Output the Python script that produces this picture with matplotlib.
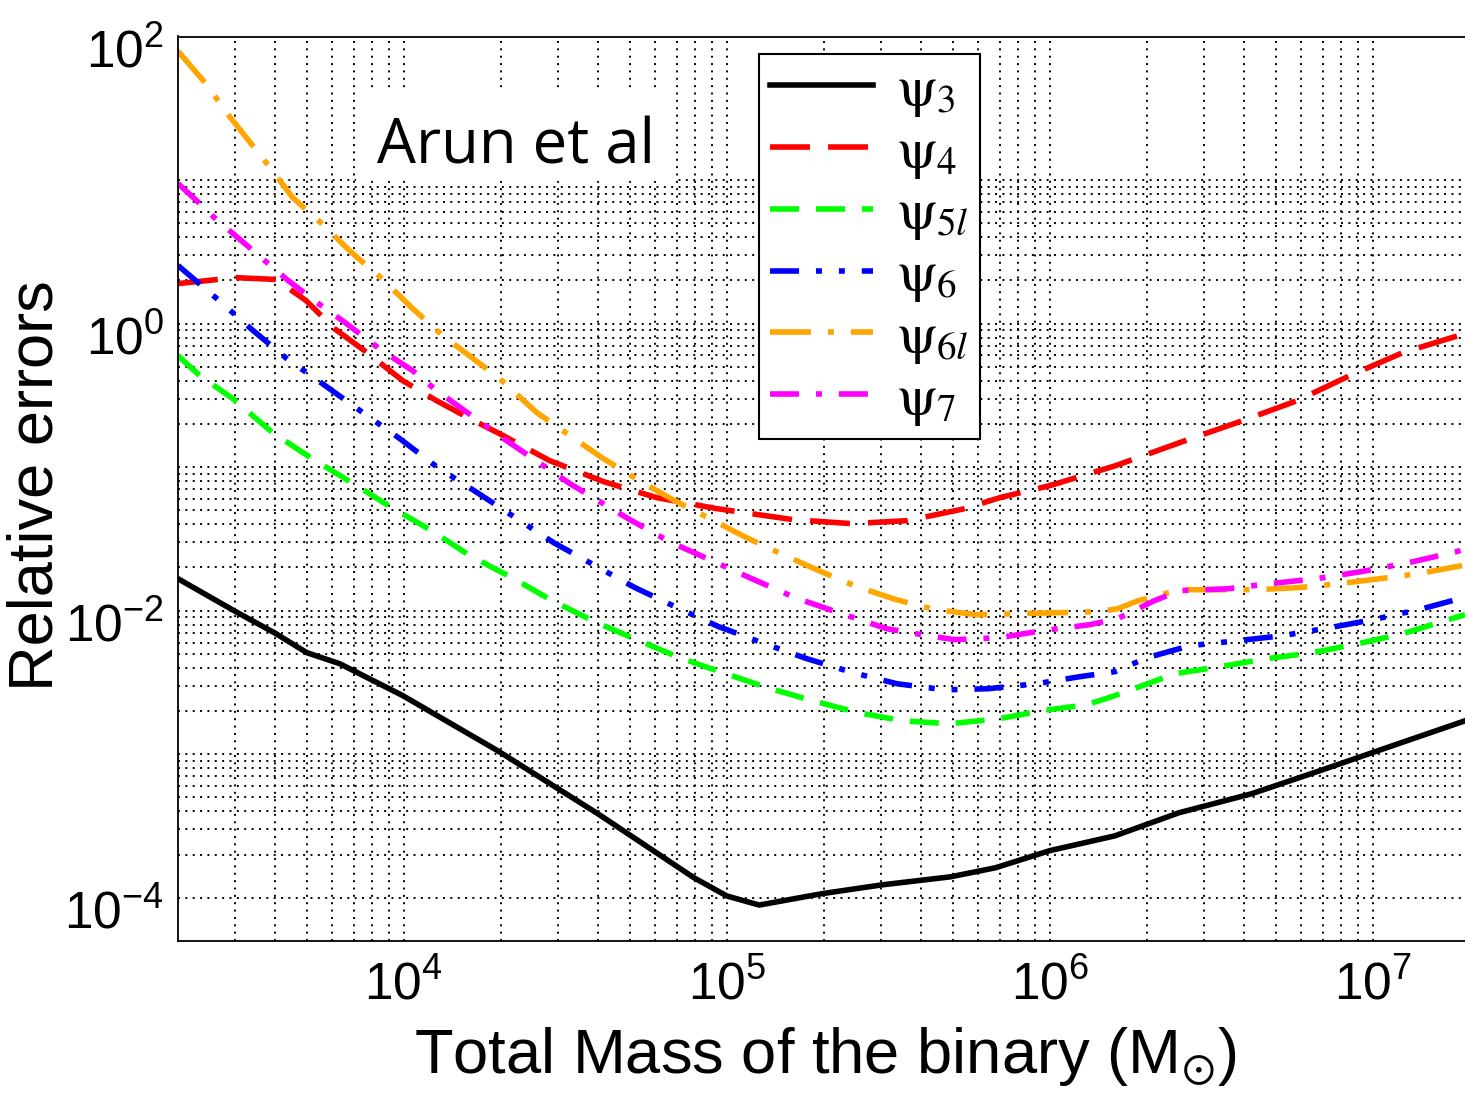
import numpy as np
import matplotlib
matplotlib.use("Agg")
from matplotlib import pyplot as plt
from matplotlib.patches import Rectangle
from matplotlib.ticker import NullFormatter
from matplotlib.transforms import ScaledTranslation

plt.rcParams["font.family"] = "Liberation Sans"
plt.rcParams["mathtext.fontset"] = "stix"
plt.rcParams["axes.unicode_minus"] = False
plt.rcParams["lines.scale_dashes"] = False

# values (total mass in solar masses, relative error)
m_psi3 = [2000, 3020, 4020, 5010, 6340, 9930, 19500, 39900, 79100, 1.0e5, 1.26e5,
          1.98e5, 3.02e5, 4.93e5, 6.8e5, 1.0e6, 1.59e6, 2.51e6, 4.22e6, 6.85e6,
          1.04e7, 1.93e7]
e_psi3 = [0.0167, 0.00984, 0.00692, 0.00510, 0.00427, 0.00256, 0.00106, 3.85e-4,
          1.38e-4, 1.03e-4, 8.9e-5, 1.07e-4, 1.23e-4, 1.40e-4, 1.62e-4, 2.13e-4,
          2.70e-4, 3.91e-4, 5.31e-4, 7.67e-4, 1.06e-3, 1.71e-3]

m_psi4 = [2000, 3020, 4020, 4975, 6110, 7680, 9930, 12650, 16000, 19800, 28300,
          41600, 60700, 93100, 1.6e5, 2.44e5, 3.63e5, 5.46e5, 7.0e5, 1.0e6, 1.59e6,
          2.67e6, 3.96e6, 5.82e6, 8.49e6, 1.24e7, 1.93e7]
e_psi4 = [1.90, 2.09, 2.03, 1.45, 0.92, 0.63, 0.40, 0.290, 0.218, 0.171, 0.111,
          0.0792, 0.0613, 0.0514, 0.0431, 0.0404, 0.0424, 0.0514, 0.0613, 0.0743,
          0.102, 0.155, 0.211, 0.290, 0.434, 0.628, 0.852]

m_psi5l = [2000, 2335, 2955, 3925, 5190, 6900, 9180, 12200, 16000, 21600, 28900,
           39000, 52600, 71500, 97200, 1.34e5, 1.845e5, 2.545e5, 3.51e5, 4.9e5,
           7.0e5, 9.44e5, 1.30e6, 1.59e6, 2.01e6, 2.44e6, 3.36e6, 4.70e6, 6.52e6,
           9.0e6, 1.24e7, 1.71e7, 1.93e7]
e_psi5l = [0.598, 0.434, 0.300, 0.174, 0.115, 0.078, 0.0522, 0.0361, 0.0242, 0.0170,
           0.0117, 0.00838, 0.00628, 0.00470, 0.00370, 0.00290, 0.00236, 0.00195,
           0.00171, 0.00163, 0.00177, 0.00201, 0.00221, 0.00256, 0.00310, 0.00364,
           0.00407, 0.00463, 0.00510, 0.00589, 0.00692, 0.00865, 0.00938]

m_psi6 = [2000, 2640, 3360, 4345, 5650, 7465, 9720, 12740, 16700, 22400, 29100,
          39600, 51900, 71500, 94400, 1.31e5, 1.77e5, 2.46e5, 3.36e5, 4.73e5,
          6.43e5, 9.12e5, 1.24e6, 1.59e6, 2.0e6, 2.71e6, 3.82e6, 5.26e6, 7.36e6,
          1.0e7, 1.42e7, 1.90e7]
e_psi6 = [2.54, 1.49, 0.923, 0.570, 0.376, 0.240, 0.158, 0.0993, 0.0675, 0.0438,
          0.0298, 0.0203, 0.0145, 0.0103, 0.00774, 0.00589, 0.00463, 0.00370,
          0.00310, 0.00281, 0.00286, 0.00310, 0.00347, 0.00376, 0.00470, 0.00570,
          0.00618, 0.00670, 0.00762, 0.00865, 0.0103, 0.0123]

m_psi6l = [2000, 2430, 2890, 3770, 4530, 5570, 6900, 8550, 10660, 13200, 17200,
           19800, 25800, 32700, 41400, 53000, 68000, 88600, 1.15e5, 1.49e5, 1.96e5,
           2.53e5, 3.36e5, 4.40e5, 5.93e5, 7.92e5, 1.06e6, 1.40e6, 1.62e6, 1.87e6,
           2.53e6, 3.31e6, 4.37e6, 5.94e6, 7.81e6, 1.05e7, 1.38e7, 1.89e7]
e_psi6l = [79.0, 47.4, 27.7, 13.0, 7.55, 4.98, 3.12, 2.06, 1.27, 0.825, 0.526,
           0.414, 0.240, 0.166, 0.115, 0.0818, 0.0594, 0.0438, 0.0323, 0.0246,
           0.0187, 0.0147, 0.0119, 0.0102, 0.00938, 0.00953, 0.00968, 0.00984,
           0.0103, 0.0117, 0.0140, 0.0140, 0.0140, 0.0145, 0.0154, 0.0167, 0.0181,
           0.0206]

m_psi7 = [2000, 2335, 2590, 3410, 4380, 5490, 6570, 8550, 10660, 12650, 20800,
          32700, 50100, 67400, 87300, 1.175e5, 1.63e5, 2.27e5, 3.13e5, 4.18e5,
          5.09e5, 7.0e5, 9.49e5, 1.33e6, 1.62e6, 2.10e6, 2.53e6, 3.54e6, 4.78e6,
          6.67e6, 9.2e6, 1.29e7, 1.82e7, 1.93e7]
e_psi7 = [9.46, 6.86, 5.48, 3.23, 2.00, 1.36, 1.02, 0.649, 0.470, 0.341, 0.153,
          0.0767, 0.0431, 0.0298, 0.0230, 0.0170, 0.0123, 0.00953, 0.00749,
          0.00670, 0.00628, 0.00649, 0.00726, 0.00799, 0.00879, 0.0117, 0.0138,
          0.0142, 0.0154, 0.0167, 0.0187, 0.0216, 0.0258, 0.0270]

labels = [r"$\mathrm{\psi}_{3}$", r"$\mathrm{\psi}_{4}$", r"$\mathrm{\psi}_{5l}$",
          r"$\mathrm{\psi}_{6}$", r"$\mathrm{\psi}_{6l}$", r"$\mathrm{\psi}_{7}$"]

x_major = [1e4, 1e5, 1e6, 1e7]
y_major = [1e-4, 1e-2, 1e0, 1e2]
x_ticklabels = [r"$\mathdefault{10^{4}}$", r"$\mathdefault{10^{5}}$",
                r"$\mathdefault{10^{6}}$", r"$\mathdefault{10^{7}}$"]
y_ticklabels = [r"$\mathdefault{10^{-4}}$", r"$\mathdefault{10^{-2}}$",
                r"$\mathdefault{10^{0}}$", r"$\mathdefault{10^{2}}$"]

fig = plt.figure(figsize=(14.65, 11.01), dpi=100)
ax = fig.add_axes([178 / 1465, 160 / 1101, 1292 / 1465, 904.5 / 1101])

lw = 4
ax.plot(m_psi3, e_psi3, color="black", lw=lw, label=labels[0])
ax.plot(m_psi4, e_psi4, color="#ff0000", lw=lw, ls=(0, (28.8, 13)), label=labels[1])
ax.plot(m_psi5l, e_psi5l, color="#00ff00", lw=lw, ls=(0, (20.9, 12.2)), label=labels[2])
ax.plot(m_psi6, e_psi6, color="#0000ff", lw=lw,
        ls=(0, (20.9, 12.2, 4.3, 12.2, 4.3, 12.2)), label=labels[3])
ax.plot(m_psi6l, e_psi6l, color="#ffa500", lw=lw,
        ls=(0, (29.5, 12.2, 4.3, 12.2)), label=labels[4])
ax.plot(m_psi7, e_psi7, color="#ff00ff", lw=lw,
        ls=(0, (20.9, 12.2, 4.3, 12.2)), label=labels[5])

ax.set_xscale("log")
ax.set_yscale("log")
ax.set_xlim(2e3, 2e7)
ax.set_ylim(5e-5, 1e2)

ax.set_xticks(x_major)
ax.set_xticks([k * 10.0 ** e for e in range(3, 7) for k in range(2, 10)
               if 2e3 < k * 10.0 ** e < 2e7], minor=True)
ax.set_yticks(y_major)
ax.set_yticks([k * 10.0 ** e for e in range(-4, 2) for k in range(1, 10)
               if k * 10.0 ** e not in y_major and k * 10.0 ** e <= 10], minor=True)
ax.xaxis.set_minor_formatter(NullFormatter())
ax.yaxis.set_minor_formatter(NullFormatter())
ax.set_xticklabels(x_ticklabels)
ax.set_yticklabels(y_ticklabels)
ax.tick_params(which="both", length=0, labelsize=37)
ax.tick_params(axis="x", pad=14)
ax.tick_params(axis="y", pad=10)

# MATLAB-style offset of the y labels below their grid line
shift = ScaledTranslation(0, -8 / 72, fig.dpi_scale_trans)
for lab in ax.get_yticklabels():
    lab.set_transform(lab.get_transform() + shift)

ax.grid(which="both", color="black", linestyle=(0, (1.4, 3.9)), linewidth=1.4)
for sp in ax.spines.values():
    sp.set_linewidth(1.3)

ax.set_xlabel(r"Total Mass of the binary (M$_{\odot}$)", fontsize=45.5, va="baseline")
ax.xaxis.set_label_coords(0.5015, -0.1459)
ax.set_ylabel("Relative errors", fontsize=45.5, va="center")
ax.yaxis.set_label_coords(-0.1099, 0.503)

# white patch behind the annotation
ax.add_patch(Rectangle((0.1378, 0.840), 0.246, 0.103, transform=ax.transAxes,
                       facecolor="white", edgecolor="none", zorder=1.8))
ax.text(0.154, 0.860, "Arun et al", transform=ax.transAxes, fontsize=44.4,
        family="Open Sans", va="baseline", ha="left", zorder=3)

leg = ax.legend(loc="upper left", bbox_to_anchor=(0.4497, 0.981), borderaxespad=0,
                fontsize=40, handlelength=1.85, handletextpad=0.43, labelspacing=0.14,
                fancybox=False, framealpha=1, edgecolor="black", borderpad=0.2)
leg.get_frame().set_linewidth(1.5)

fig.savefig("out.png", dpi=100)
